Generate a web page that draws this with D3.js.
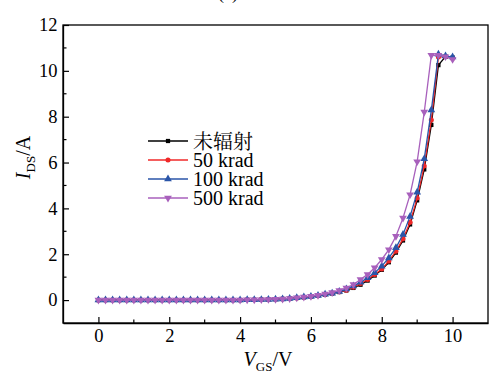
<!DOCTYPE html>
<html><head><meta charset="utf-8">
<script src="https://cdn.jsdelivr.net/npm/d3@7"></script>
<style>body{margin:0;background:#fff;}</style></head>
<body><svg id="c" width="496" height="378" font-family="Liberation Serif"></svg>
<script>
const vgs = [0,0.2,0.4,0.6,0.8,1,1.2,1.4,1.6,1.8,2,2.2,2.4,2.6,2.8,3,3.2,3.4,3.6,3.8,4,4.2,4.4,4.6,4.8,5,5.2,5.4,5.6,5.8,6,6.2,6.4,6.6,6.8,7,7.2,7.4,7.6,7.8,8,8.2,8.4,8.6,8.8,9,9.2,9.4,9.6,9.8,10];
const low = [0,0,0,0,0,0,0,0,0,0,0,0,0,0,0,0,0,0,0,0,0];
const s0 = low.concat([0.01,0.01,0.02,0.03,0.04,0.05,0.07,0.09,0.12,0.15,0.19,0.24,0.29,0.35,0.42,0.53,0.67,0.85,1.07,1.32,1.65,2.07,2.60,3.30,4.35,5.70,7.64,10.25,10.62,10.58]);
const s50 = low.concat([0.01,0.01,0.02,0.03,0.04,0.05,0.07,0.09,0.12,0.15,0.19,0.24,0.30,0.36,0.43,0.56,0.72,0.90,1.12,1.36,1.70,2.13,2.67,3.39,4.45,5.85,7.86,10.60,10.62,10.55]);
const s100 = low.concat([0.01,0.01,0.02,0.03,0.04,0.05,0.07,0.10,0.13,0.16,0.20,0.25,0.30,0.37,0.48,0.61,0.78,0.97,1.19,1.48,1.84,2.28,2.86,3.65,4.70,6.16,8.29,10.72,10.65,10.60]);
const s500 = low.concat([0.01,0.01,0.02,0.03,0.04,0.05,0.07,0.10,0.13,0.17,0.21,0.27,0.33,0.42,0.53,0.68,0.90,1.12,1.41,1.77,2.20,2.78,3.58,4.60,6.04,8.20,10.68,10.68,10.62,10.50]);
const seriesNames = ["未辐射","50 krad","100 krad","500 krad"];
const seriesColors = ["#000000","#f02828","#2a55a8","#a860bc"];
const seriesSymbols = [d3.symbolSquare, d3.symbolCircle, d3.symbolTriangle, d3.symbolTriangle];
const seriesData = [s0,s50,s100,s500];
const xTicks = [0,2,4,6,8,10];
const xMinor = [1,3,5,7,9];
const yTicks = [0,2,4,6,8,10,12];
const yMinor = [1,3,5,7,9,11];

const SERIF = "Liberation Serif";
const CJK = "Noto Serif CJK SC";
const svg = d3.select("#c");
const L=63, R=488, T=25, B=323;
const x = d3.scaleLinear().domain([-1,11]).range([L,R]);
const y = d3.scaleLinear().domain([-1,12]).range([B,T]);

svg.append("rect").attr("x",L).attr("y",T).attr("width",R-L).attr("height",B-T)
  .attr("fill","none").attr("stroke","#000").attr("stroke-width",1.3);

const xa = svg.append("g").attr("transform",`translate(0,${B})`)
  .call(d3.axisBottom(x).tickValues(xTicks).tickSizeInner(-6).tickSizeOuter(0).tickPadding(6).tickFormat(d3.format("d")));
xa.append("g").selectAll("line").data(xMinor).join("line")
  .attr("x1",d=>x(d)).attr("x2",d=>x(d)).attr("y1",0).attr("y2",-3.5).attr("stroke","#000").attr("stroke-width",1.2);
const ya = svg.append("g").attr("transform",`translate(${L},0)`)
  .call(d3.axisLeft(y).tickValues(yTicks).tickSizeInner(-6).tickSizeOuter(0).tickPadding(5.5).tickFormat(d3.format("d")));
ya.append("g").selectAll("line").data(yMinor).join("line")
  .attr("y1",d=>y(d)).attr("y2",d=>y(d)).attr("x1",0).attr("x2",3.5).attr("stroke","#000").attr("stroke-width",1.2);
[xa,ya].forEach(a=>{
  a.attr("font-family",SERIF).attr("font-size",18.5);
  a.select(".domain").attr("stroke-width",1.3);
  a.selectAll(".tick line").attr("stroke-width",1.2);
  a.selectAll("text").attr("fill","#000").attr("font-family",SERIF);
});

const line = d3.line().x((d,i)=>x(vgs[i])).y(d=>y(d));
const symSize = [18,20,26,26];
seriesData.forEach((s,k)=>{
  svg.append("path").datum(s).attr("d",line).attr("fill","none")
    .attr("stroke",seriesColors[k]).attr("stroke-width",1.3);
  const sym = d3.symbol().type(seriesSymbols[k]).size(symSize[k]);
  svg.append("g").selectAll("path").data(s).join("path")
    .attr("d",sym)
    .attr("transform",(d,i)=>`translate(${x(vgs[i])},${y(d)})${k===3?" rotate(180)":""}`)
    .attr("fill",seriesColors[k]);
});

const lg = svg.append("g");
seriesNames.forEach((n,k)=>{
  const yy = 141 + k*19;
  lg.append("line").attr("x1",148).attr("x2",188).attr("y1",yy).attr("y2",yy)
    .attr("stroke",seriesColors[k]).attr("stroke-width",1.3);
  lg.append("path").attr("d",d3.symbol().type(seriesSymbols[k]).size(symSize[k]))
    .attr("transform",`translate(168,${yy})${k===3?" rotate(180)":""}`).attr("fill",seriesColors[k]);
  lg.append("text").attr("x",193).attr("y",yy+(k===0?7.5:6.5)).attr("font-size",20)
    .attr("font-family",k===0?CJK:SERIF)
    .text(n);
});

const xt = svg.append("text").attr("x",268).attr("y",366).attr("text-anchor","middle").attr("font-size",20).attr("font-family",SERIF);
xt.append("tspan").attr("font-style","italic").text("V");
xt.append("tspan").attr("font-size",13).attr("dy",5).text("GS");
xt.append("tspan").attr("dy",-5).text("/V");
const yt = svg.append("text").attr("transform","translate(30,157.5) rotate(-90)").attr("text-anchor","middle").attr("font-size",20).attr("font-family",SERIF);
yt.append("tspan").attr("font-style","italic").text("I");
yt.append("tspan").attr("font-size",13).attr("dy",5).text("DS");
yt.append("tspan").attr("dy",-5).text("/A");

svg.append("text").attr("x",228).attr("y",-1).attr("text-anchor","middle").attr("font-size",18).attr("font-family",SERIF).text("(a)");
</script></body></html>
